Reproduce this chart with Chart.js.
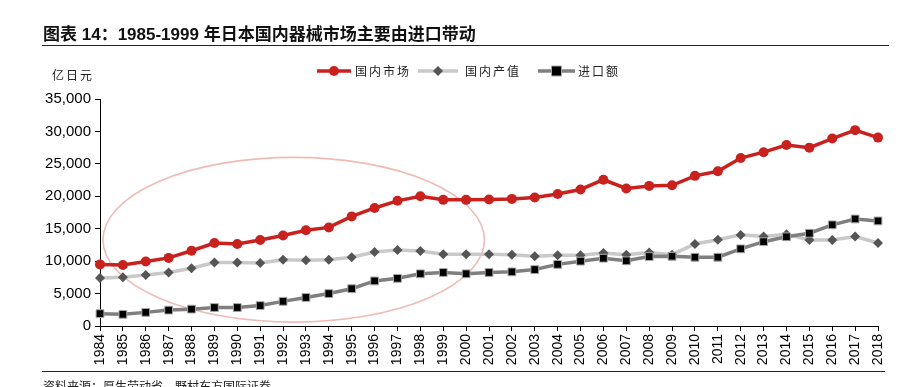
<!DOCTYPE html>
<html>
<head>
<meta charset="utf-8">
<script src="https://cdn.jsdelivr.net/npm/chart.js@4.4.1/dist/chart.umd.min.js"></script>
<style>
  html, body { margin: 0; padding: 0; background: #fff; overflow: hidden; }
  #wrap { position: relative; width: 908px; height: 387px; }
  #chart { position: absolute; left: 0; top: 0; }
  .title {
    position: absolute; left: 43px; top: 20px;
    font: bold 17px "Liberation Sans", "Noto Sans CJK SC", sans-serif;
    color: #111; white-space: nowrap;
  }
  .rule { position: absolute; left: 42px; height: 0; border-top: 1.5px solid #222; }
  .unit {
    position: absolute; left: 52px; top: 66px;
    font: 12px "Noto Sans CJK SC", sans-serif; letter-spacing: 2px; color: #222;
  }
  .source {
    position: absolute; left: 43px; top: 377px;
    font: 12px "Noto Sans CJK SC", sans-serif; color: #222; white-space: nowrap;
  }
</style>
</head>
<body>
<div id="wrap">
  <canvas id="chart" width="908" height="387"></canvas>
  <div class="title">图表 14：1985-1999 年日本国内器械市场主要由进口带动</div>
  <div class="rule" style="top:45px; width:847px;"></div>
  <div class="unit">亿日元</div>
  <div class="rule" style="top:371px; width:843px; border-top-width:1px;"></div>
  <div class="source">资料来源：厚生劳动省，野村东方国际证券</div>
</div>
<script>
const years = ["1984", "1985", "1986", "1987", "1988", "1989", "1990", "1991", "1992", "1993",
  "1994", "1995", "1996", "1997", "1998", "1999", "2000", "2001", "2002", "2003", "2004",
  "2005", "2006", "2007", "2008", "2009", "2010", "2011", "2012", "2013", "2014", "2015",
  "2016", "2017", "2018"];

// 国内市场
const market = [9500, 9400, 9950, 10500, 11600, 12800, 12650, 13250, 13950, 14750, 15200,
  16900, 18200, 19300, 20000, 19450, 19450, 19500, 19600, 19800, 20350, 21050, 22550, 21200,
  21600, 21700, 23150, 23850, 25900, 26800, 27900, 27500, 28900, 30200, 29050];

// 国内产值
const production = [7400, 7500, 7850, 8250, 8900, 9800, 9800, 9700, 10200, 10150, 10200,
  10600, 11400, 11700, 11550, 11050, 11050, 11050, 11000, 10750, 10900, 10900, 11250, 11000,
  11350, 11000, 12650, 13300, 14050, 13800, 14150, 13250, 13250, 13800, 12800];

// 进口额
const imports = [1900, 1800, 2100, 2450, 2600, 2850, 2850, 3150, 3800, 4400, 5000, 5750,
  6950, 7350, 8050, 8250, 8050, 8250, 8350, 8700, 9500, 10000, 10450, 10050, 10700, 10750,
  10600, 10600, 11900, 13000, 13750, 14300, 15600, 16500, 16200];

const seriesNames = ["国内市场", "国内产值", "进口额"];
const yTicks = [0, 5000, 10000, 15000, 20000, 25000, 30000, 35000];

// highlighted period (category index range, value range)
const ringX = [0.13, 16.8];
const ringY = [600, 26000];

const ringPlugin = {
  id: "ring",
  beforeDatasetsDraw(chart) {
    const { ctx, scales } = chart;
    const x1 = scales.x.getPixelForValue(ringX[0]);
    const x2 = scales.x.getPixelForValue(ringX[1]);
    const y1 = scales.y.getPixelForValue(ringY[1]);
    const y2 = scales.y.getPixelForValue(ringY[0]);
    ctx.save();
    ctx.beginPath();
    ctx.ellipse((x1 + x2) / 2, (y1 + y2) / 2, (x2 - x1) / 2, (y2 - y1) / 2, 0, 0, Math.PI * 2);
    ctx.strokeStyle = "#eebcb4";
    ctx.lineWidth = 1.6;
    ctx.stroke();
    ctx.restore();
  }
};

function marker(ctx, style, x, y, fill, border) {
  ctx.beginPath();
  if (style === "circle") {
    ctx.arc(x, y, 5, 0, Math.PI * 2);
  } else if (style === "rectRot") {
    ctx.moveTo(x, y - 5); ctx.lineTo(x + 5, y); ctx.lineTo(x, y + 5); ctx.lineTo(x - 5, y);
    ctx.closePath();
  } else {
    ctx.rect(x - 5, y - 5, 10, 10);
  }
  ctx.fillStyle = fill;
  ctx.fill();
  if (border) { ctx.strokeStyle = border; ctx.lineWidth = 1; ctx.stroke(); }
}

const legendPlugin = {
  id: "lineLegend",
  afterDraw(chart) {
    const ctx = chart.ctx;
    const items = [
      { x: 317, w: 34, tx: 355 },
      { x: 418, w: 40, tx: 465 },
      { x: 538, w: 37, tx: 578 }
    ];
    const y = 71;
    ctx.save();
    chart.data.datasets.forEach((ds, i) => {
      const it = items[i];
      ctx.beginPath();
      ctx.moveTo(it.x, y);
      ctx.lineTo(it.x + it.w, y);
      ctx.strokeStyle = ds.borderColor;
      ctx.lineWidth = 3.5;
      ctx.stroke();
      marker(ctx, ds.pointStyle, it.x + it.w / 2, y, ds.pointBackgroundColor,
        ds.pointBorderColor !== ds.pointBackgroundColor ? ds.pointBorderColor : null);
      ctx.fillStyle = "#222";
      ctx.font = '12px "Noto Sans CJK SC", sans-serif';
      ctx.textBaseline = "middle";
      ctx.letterSpacing = "2px";
      ctx.fillText(ds.label, it.tx, y);
    });
    ctx.restore();
  }
};

new Chart(document.getElementById("chart"), {
  type: "line",
  data: {
    labels: years,
    datasets: [
      {
        label: seriesNames[0], data: market, order: 0,
        borderColor: "#c9211e", borderWidth: 3.5,
        pointStyle: "circle", pointRadius: 5,
        pointBackgroundColor: "#c9211e", pointBorderColor: "#c9211e", pointBorderWidth: 0
      },
      {
        label: seriesNames[1], data: production, order: 2,
        borderColor: "#c9c9c9", borderWidth: 3.5,
        pointStyle: "rectRot", pointRadius: 5,
        pointBackgroundColor: "#555555", pointBorderColor: "#555555", pointBorderWidth: 0
      },
      {
        label: seriesNames[2], data: imports, order: 1,
        borderColor: "#7f7f7f", borderWidth: 3.5,
        pointStyle: "rect", pointRadius: 5.5,
        pointBackgroundColor: "#000000", pointBorderColor: "#a6a6a6", pointBorderWidth: 1
      }
    ]
  },
  options: {
    responsive: false,
    animation: false,
    devicePixelRatio: 1,
    layout: { padding: { top: 99, right: 30, left: 0, bottom: 0 } },
    plugins: { legend: { display: false }, tooltip: { enabled: false } },
    elements: { line: { tension: 0 } },
    scales: {
      x: {
        type: "category",
        offset: false,
        afterFit(scale) { scale.height = 61; },
        grid: { drawOnChartArea: false, drawTicks: true, tickLength: 5, color: "#000" },
        border: { display: true, color: "#000", width: 1 },
        ticks: {
          minRotation: 90, maxRotation: 90, autoSkip: false, padding: 3,
          color: "#000", font: { family: "Liberation Sans", size: 14 }
        }
      },
      y: {
        min: 0, max: 35000,
        afterFit(scale) { scale.width = 100; },
        afterBuildTicks(scale) { scale.ticks = yTicks.map(v => ({ value: v })); },
        grid: { drawOnChartArea: false, drawTicks: true, tickLength: 5, color: "#000" },
        border: { display: true, color: "#000", width: 1 },
        ticks: {
          padding: 4, color: "#000",
          font: { family: "Liberation Sans", size: 15 },
          callback: v => v.toLocaleString("en-US")
        }
      }
    }
  },
  plugins: [ringPlugin, legendPlugin]
});
</script>
</body>
</html>
